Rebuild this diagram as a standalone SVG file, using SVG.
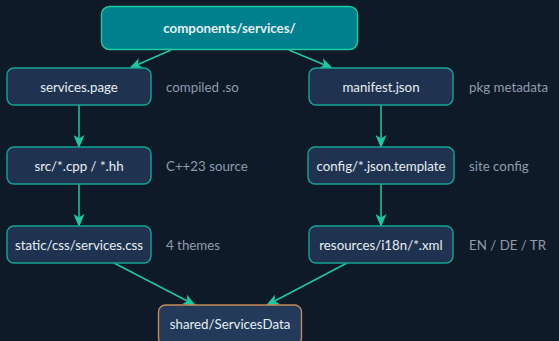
<svg xmlns="http://www.w3.org/2000/svg" width="559" height="341" viewBox="0 0 559 341">
  <defs>
    <marker id="stealth" viewBox="0 0 13 11" refX="12" refY="5.5" markerWidth="13" markerHeight="11" markerUnits="userSpaceOnUse" orient="auto">
      <path d="M0,0 L13,5.5 L0,11 L3.5,5.5 Z" fill="#1ccaa2"/>
    </marker>
  </defs>
  <style>
    .bg { fill: #0f1a29; }
    .node rect { fill: #1f3350; stroke: #14a593; stroke-width: 1.4; }
    .root rect { fill: #00808c; stroke: #1ccaa2; stroke-width: 1.4; }
    .sink rect { fill: #233a5a; stroke: #c48a5a; stroke-width: 1.4; }
    .node text, .root text, .sink text { font-family: "Lato", "Noto Sans", sans-serif; font-size: 13.3px; fill: #e6eef4; text-anchor: middle; dominant-baseline: central; }
    .root text { font-weight: bold; }
    .note { font-family: "Lato", "Noto Sans", sans-serif; font-size: 13.3px; fill: #8e9cab; dominant-baseline: central; }
    .edges path { fill: none; stroke: #1ccaa2; stroke-width: 1.5; marker-end: url(#stealth); }
  </style>
  <rect class="bg" x="0" y="0" width="559" height="341"/>

  <g class="edges">
    <path d="M171,50 L130,68"/>
    <path d="M289,50 L332,68"/>
    <path d="M79,105 L79,147"/>
    <path d="M79,184 L79,226"/>
    <path d="M381,105 L381,147"/>
    <path d="M381,184 L381,226"/>
    <path d="M114,263 L195,305"/>
    <path d="M347,263 L267,305"/>
  </g>

  <g id="root" class="root">
    <rect x="101.5" y="6.5" width="256" height="43" rx="8"/>
    <text x="229.5" y="28">components/services/</text>
  </g>

  <g id="services-page" class="node">
    <rect x="7" y="68" width="144" height="37" rx="7"/>
    <text x="79" y="86.5">services.page</text>
  </g>
  <text class="note" x="166" y="86.5">compiled .so</text>

  <g id="manifest" class="node">
    <rect x="309" y="68" width="144" height="37" rx="7"/>
    <text x="381" y="86.5">manifest.json</text>
  </g>
  <text class="note" x="469" y="86.5">pkg metadata</text>

  <g id="src" class="node">
    <rect x="7" y="147" width="144" height="37" rx="7"/>
    <text x="79" y="165.5">src/*.cpp / *.hh</text>
  </g>
  <text class="note" x="166" y="165.5">C++23 source</text>

  <g id="config" class="node">
    <rect x="308" y="147" width="146" height="37" rx="7"/>
    <text x="381" y="165.5">config/*.json.template</text>
  </g>
  <text class="note" x="469" y="165.5">site config</text>

  <g id="static-css" class="node">
    <rect x="7" y="226" width="144" height="37" rx="7"/>
    <text x="79" y="244.5">static/css/services.css</text>
  </g>
  <text class="note" x="166" y="244.5">4 themes</text>

  <g id="resources" class="node">
    <rect x="309" y="226" width="144" height="37" rx="7"/>
    <text x="381" y="244.5">resources/i18n/*.xml</text>
  </g>
  <text class="note" x="469" y="244.5">EN / DE / TR</text>

  <g id="shared" class="sink">
    <rect x="158.5" y="305" width="143" height="40" rx="7"/>
    <text x="230" y="324">shared/ServicesData</text>
  </g>
</svg>
